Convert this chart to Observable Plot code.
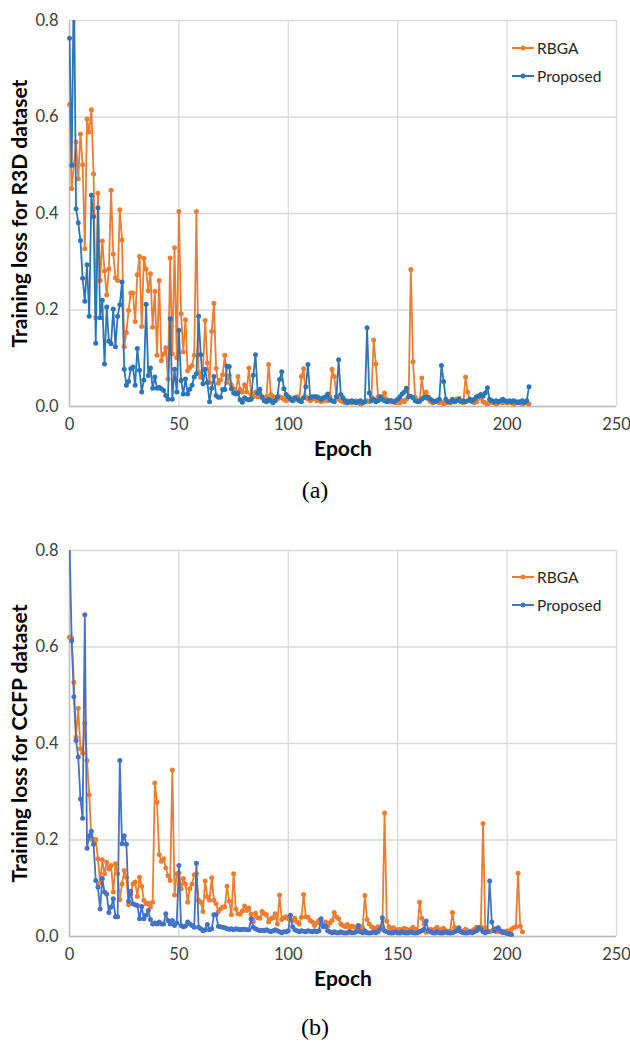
<!DOCTYPE html>
<html><head><meta charset="utf-8">
<script src="https://cdn.jsdelivr.net/npm/d3@7"></script>
<script src="https://cdn.jsdelivr.net/npm/@observablehq/plot@0.6"></script>
<style>
body{margin:0;background:#fff;width:630px;height:1044px;position:relative;overflow:hidden;font-family:Lato,sans-serif}
.panel{position:absolute;left:0}
.cap{position:absolute;left:0;width:630px;text-align:center;font-family:"Liberation Serif",serif;font-size:24px;color:#000;line-height:28px}
.legend{position:absolute;left:512px;font-family:Lato,sans-serif;font-size:15.5px;color:#262626}
.legend div{height:28px;display:flex;align-items:center}
.legend svg{margin-right:3px}
</style></head><body>
<div id="pa" class="panel" style="top:0"></div>
<div id="la" class="legend" style="top:34px"></div>
<div class="cap" style="top:476px">(a)</div>
<div id="pb" class="panel" style="top:530px"></div>
<div id="lb" class="legend" style="top:563px"></div>
<div class="cap" style="top:1013px">(b)</div>
<script>
// ---- data ----
const seriesNames = ["RBGA", "Proposed"];
const xTicks = [0, 50, 100, 150, 200, 250];
const yTicks = [0, 0.2, 0.4, 0.6, 0.8];
const xTitle = "Epoch";
const yTitleA = "Training loss for R3D dataset";
const yTitleB = "Training loss for CCFP dataset";
const captionA = "(a)", captionB = "(b)";

// Panel (a) R3D, loss per epoch (index = epoch)
const r3dProposed = [
0.763,0.50,0.90,0.41,0.381,0.344,0.266,0.218,0.294,0.187,
0.438,0.394,0.131,0.412,0.184,0.22,0.088,0.206,0.135,0.13,
0.202,0.124,0.187,0.211,0.258,0.077,0.044,0.052,0.078,0.082,
0.044,0.12,0.075,0.03,0.055,0.212,0.064,0.08,0.038,0.061,
0.038,0.04,0.037,0.033,0.023,0.015,0.182,0.015,0.077,0.03,
0.158,0.054,0.026,0.057,0.026,0.036,0.044,0.061,0.068,0.187,
0.107,0.047,0.077,0.05,0.01,0.038,0.062,0.023,0.019,0.019,
0.035,0.035,0.084,0.083,0.037,0.028,0.026,0.028,0.014,0.009,
0.018,0.015,0.014,0.015,0.065,0.107,0.028,0.036,0.02,0.012,
0.01,0.015,0.012,0.008,0.012,0.02,0.056,0.072,0.037,0.025,
0.02,0.015,0.012,0.018,0.015,0.012,0.01,0.018,0.041,0.087,
0.018,0.02,0.02,0.02,0.018,0.015,0.018,0.02,0.026,0.015,
0.012,0.01,0.02,0.097,0.025,0.018,0.012,0.008,0.01,0.012,
0.01,0.008,0.01,0.012,0.008,0.01,0.163,0.028,0.012,0.015,
0.01,0.012,0.02,0.015,0.012,0.01,0.012,0.012,0.01,0.012,
0.015,0.02,0.026,0.03,0.038,0.02,0.021,0.018,0.012,0.01,
0.012,0.015,0.018,0.019,0.019,0.015,0.012,0.01,0.012,0.015,
0.085,0.052,0.015,0.01,0.01,0.015,0.01,0.012,0.015,0.01,
0.012,0.01,0.012,0.015,0.012,0.015,0.02,0.022,0.025,0.021,
0.028,0.039,0.015,0.012,0.01,0.012,0.01,0.012,0.015,0.012,
0.01,0.012,0.01,0.012,0.01,0.008,0.01,0.012,0.008,0.012,
0.041];
const r3dRBGA = [
0.626,0.452,0.50,0.548,0.472,0.565,0.501,0.327,0.596,0.569,
0.615,0.482,0.184,0.442,0.261,0.343,0.281,0.231,0.285,0.448,
0.316,0.267,0.261,0.408,0.345,0.124,0.153,0.199,0.235,0.235,
0.176,0.273,0.311,0.166,0.307,0.285,0.24,0.275,0.164,0.239,
0.106,0.261,0.095,0.109,0.122,0.057,0.308,0.109,0.329,0.101,
0.404,0.192,0.113,0.18,0.074,0.081,0.085,0.106,0.404,0.07,
0.06,0.075,0.178,0.09,0.05,0.156,0.214,0.079,0.048,0.055,
0.066,0.106,0.05,0.064,0.045,0.037,0.03,0.062,0.035,0.03,
0.045,0.03,0.08,0.025,0.02,0.03,0.02,0.025,0.018,0.015,
0.02,0.087,0.025,0.02,0.018,0.015,0.02,0.018,0.015,0.012,
0.015,0.018,0.012,0.015,0.02,0.015,0.062,0.078,0.02,0.015,
0.012,0.015,0.018,0.012,0.015,0.01,0.012,0.015,0.012,0.02,
0.077,0.062,0.02,0.015,0.012,0.01,0.008,0.012,0.01,0.008,
0.01,0.012,0.01,0.005,0.008,0.01,0.012,0.01,0.02,0.138,
0.088,0.02,0.015,0.02,0.028,0.015,0.01,0.012,0.01,0.008,
0.01,0.008,0.012,0.01,0.015,0.02,0.284,0.093,0.019,0.012,
0.01,0.059,0.02,0.03,0.015,0.01,0.008,0.01,0.012,0.008,
0.01,0.005,0.008,0.01,0.008,0.01,0.012,0.015,0.017,0.01,
0.008,0.061,0.03,0.012,0.01,0.008,0.01,0.017,0.02,0.01,
0.008,0.005,0.008,0.01,0.008,0.005,0.008,0.01,0.008,0.012,
0.008,0.01,0.008,0.005,0.008,0.01,0.008,0.005,0.008,0.01,
0.005];

// Panel (b) CCFP
const ccfpProposed = [
0.82,0.613,0.497,0.406,0.372,0.285,0.245,0.667,0.183,0.209,
0.218,0.191,0.116,0.102,0.057,0.12,0.092,0.088,0.05,0.061,
0.078,0.041,0.041,0.365,0.192,0.209,0.191,0.073,0.094,0.068,
0.066,0.064,0.037,0.062,0.037,0.044,0.054,0.035,0.026,0.028,
0.026,0.03,0.026,0.026,0.047,0.033,0.026,0.033,0.023,0.028,
0.147,0.023,0.02,0.022,0.03,0.026,0.023,0.019,0.152,0.019,
0.016,0.012,0.014,0.025,0.014,0.016,0.045,0.045,0.021,0.02,
0.019,0.018,0.016,0.015,0.016,0.014,0.016,0.015,0.014,0.015,
0.015,0.014,0.014,0.037,0.019,0.016,0.014,0.012,0.013,0.012,
0.014,0.012,0.01,0.012,0.014,0.012,0.01,0.008,0.01,0.01,
0.012,0.044,0.02,0.014,0.012,0.01,0.012,0.011,0.01,0.012,
0.011,0.01,0.012,0.01,0.012,0.037,0.02,0.021,0.012,0.01,
0.008,0.01,0.008,0.008,0.01,0.008,0.007,0.008,0.01,0.008,
0.008,0.01,0.023,0.01,0.008,0.012,0.008,0.007,0.008,0.01,
0.008,0.01,0.015,0.039,0.012,0.01,0.008,0.007,0.008,0.01,
0.008,0.007,0.01,0.008,0.007,0.008,0.01,0.008,0.007,0.008,
0.01,0.012,0.015,0.032,0.012,0.01,0.008,0.007,0.01,0.008,
0.007,0.008,0.01,0.008,0.007,0.008,0.01,0.012,0.018,0.01,
0.008,0.007,0.008,0.01,0.008,0.01,0.012,0.018,0.015,0.01,
0.008,0.01,0.115,0.03,0.012,0.016,0.018,0.012,0.01,0.008,
0.006,0.005,0.004];
const ccfpRBGA = [
0.62,0.618,0.527,0.413,0.473,0.389,0.38,0.442,0.365,0.294,
0.201,0.201,0.201,0.161,0.111,0.159,0.13,0.154,0.14,0.147,
0.092,0.151,0.13,0.076,0.109,0.137,0.123,0.066,0.088,0.109,
0.113,0.083,0.123,0.104,0.075,0.068,0.069,0.061,0.071,0.318,
0.278,0.17,0.156,0.161,0.142,0.126,0.116,0.345,0.086,0.13,
0.132,0.099,0.12,0.109,0.071,0.099,0.109,0.128,0.13,0.075,
0.071,0.052,0.115,0.082,0.075,0.122,0.075,0.068,0.052,0.057,
0.061,0.061,0.104,0.073,0.045,0.13,0.057,0.047,0.046,0.053,
0.063,0.054,0.059,0.046,0.031,0.048,0.039,0.038,0.052,0.047,
0.045,0.03,0.037,0.039,0.047,0.026,0.086,0.035,0.039,0.041,
0.037,0.035,0.033,0.038,0.03,0.026,0.04,0.087,0.041,0.04,
0.033,0.03,0.023,0.028,0.033,0.026,0.021,0.03,0.021,0.028,
0.033,0.05,0.041,0.037,0.026,0.023,0.02,0.025,0.018,0.022,
0.02,0.018,0.015,0.02,0.018,0.085,0.035,0.026,0.02,0.018,
0.015,0.02,0.018,0.02,0.256,0.032,0.02,0.015,0.018,0.015,
0.012,0.015,0.012,0.017,0.015,0.012,0.015,0.019,0.015,0.012,
0.071,0.038,0.026,0.009,0.012,0.015,0.012,0.015,0.019,0.012,
0.015,0.017,0.012,0.01,0.012,0.05,0.019,0.015,0.012,0.01,
0.012,0.015,0.012,0.01,0.012,0.015,0.019,0.015,0.02,0.234,
0.018,0.012,0.01,0.012,0.015,0.01,0.012,0.01,0.008,0.01,
0.012,0.01,0.015,0.018,0.02,0.131,0.021,0.01];

const orangeColor = "#ED7D31";
const blueA = "#2E75B6", blueB = "#4472C4";

function toRows(arr){ return arr.map((v,i)=>({epoch:i, loss:v})); }

function panel(orange, blue, ylabel, blueColor){
  const o = toRows(orange), b = toRows(blue);
  return Plot.plot({
    width:630, height:470, marginLeft:69, marginRight:14, marginTop:20, marginBottom:64,
    style:{fontFamily:"Lato, sans-serif", fontSize:"16px", color:"#404040", background:"transparent", overflow:"visible"},
    x:{domain:[0,250], label:null},
    y:{domain:[0,0.8], label:null},
    marks:[
      Plot.gridX(xTicks, {stroke:"#d9d9d9", strokeOpacity:1, strokeWidth:1.3}),
      Plot.gridY(yTicks, {stroke:"#d9d9d9", strokeOpacity:1, strokeWidth:1.3}),
      Plot.ruleX([0], {stroke:"#bfbfbf", strokeWidth:1.5}),
      Plot.ruleY([0], {stroke:"#bfbfbf", strokeWidth:1.5}),
      Plot.axisX(xTicks, {tickSize:0, tickPadding:12, label:null, fontSize:16.5}),
      Plot.axisY(yTicks, {tickSize:0, tickPadding:11, label:null, fontSize:16.5, tickFormat:d=>d.toFixed(1)}),
      Plot.line(o, {x:"epoch", y:"loss", stroke:orangeColor, strokeWidth:1.8, clip:true}),
      Plot.dot(o, {x:"epoch", y:"loss", r:2.5, fill:orangeColor, filter:d=>d.loss<=0.8}),
      Plot.line(b, {x:"epoch", y:"loss", stroke:blueColor, strokeWidth:1.8, clip:true}),
      Plot.dot(b, {x:"epoch", y:"loss", r:2.5, fill:blueColor, filter:d=>d.loss<=0.8}),
      Plot.text([xTitle], {text:d=>d, frameAnchor:"bottom", dy:49, fontWeight:"bold", fontSize:21, fill:"#000"}),
      Plot.text([ylabel], {text:d=>d, frameAnchor:"left", textAnchor:"middle", dx:-49, rotate:-90, fontWeight:"bold", fontSize:21, fill:"#000"})
    ]
  });
}

function legend(el, blueColor){
  const colors = [orangeColor, blueColor];
  seriesNames.forEach((name,i)=>{
    const row = document.createElement("div");
    row.innerHTML = `<svg width="22" height="8"><line x1="0" y1="4" x2="22" y2="4" stroke="${colors[i]}" stroke-width="2"/><circle cx="11" cy="4" r="2.5" fill="${colors[i]}"/></svg><span>${name}</span>`;
    el.appendChild(row);
  });
}

document.getElementById("pa").appendChild(panel(r3dRBGA, r3dProposed, yTitleA, blueA));
document.getElementById("pb").appendChild(panel(ccfpRBGA, ccfpProposed, yTitleB, blueB));
legend(document.getElementById("la"), blueA);
legend(document.getElementById("lb"), blueB);
document.querySelectorAll(".cap")[0].textContent = captionA;
document.querySelectorAll(".cap")[1].textContent = captionB;
</script>
</body></html>
